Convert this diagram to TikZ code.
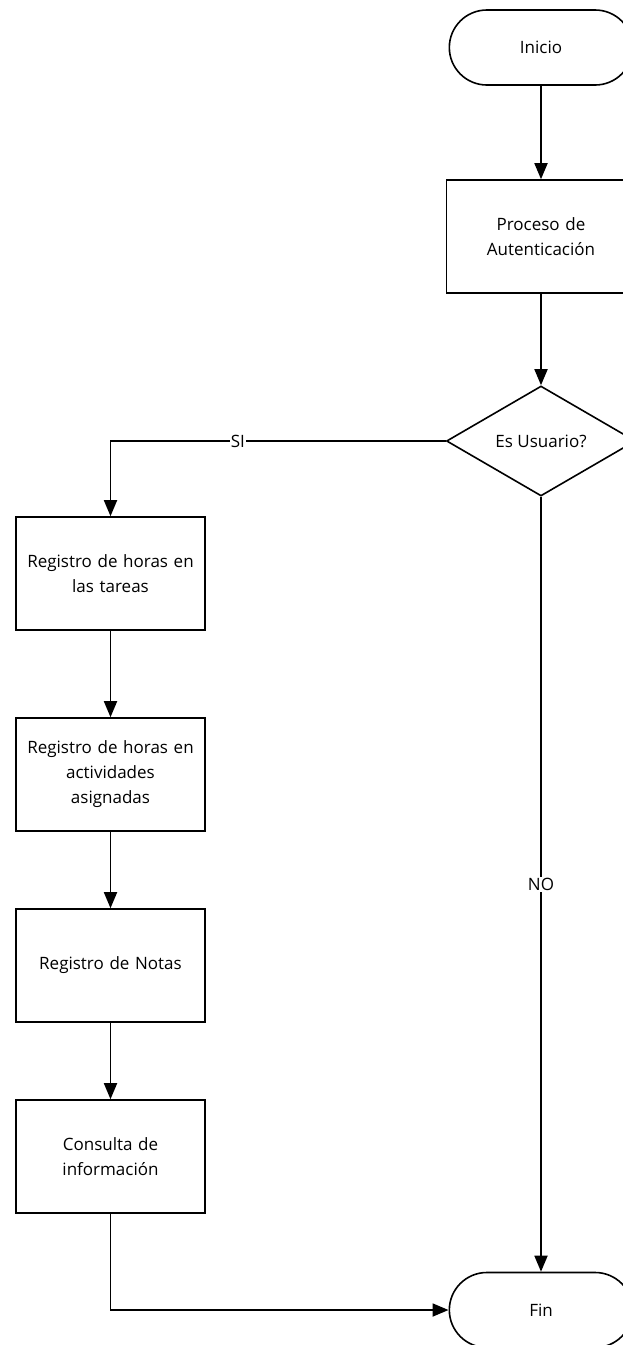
\documentclass[tikz,border=0pt]{standalone}
\usepackage{fontspec}
\setmainfont{Open Sans}
\usetikzlibrary{arrows.meta,shapes.geometric,shapes.misc}

\tikzset{
  terminal/.style={draw, line width=1.6pt, rounded rectangle, minimum width=190pt, minimum height=75pt, font=\fontsize{17}{24}\selectfont},
  proceso/.style={draw, line width=1.6pt, rectangle, minimum width=189pt, minimum height=113pt, align=center, text width=185pt, inner sep=2pt, font=\fontsize{17}{25}\selectfont},
  decision/.style={draw, line width=1.6pt, diamond, minimum width=189pt, minimum height=110pt, inner sep=0pt, font=\fontsize{17}{24}\selectfont},
  flecha/.style={line width=1.8pt, -{Triangle[width=13pt,length=16pt]}},
  etiqueta/.style={fill=white, inner sep=1pt, font=\fontsize{17}{20}\selectfont}
}

\begin{document}
\begin{tikzpicture}[x=1pt,y=-1pt]

		\useasboundingbox (0,0) rectangle (623,1345);

		% Inicio y autenticación
		\node[terminal] (inicio) at (541,47.5) {Inicio};
		\node[proceso] (autentica) at (541,236.5) {Proceso de\\Autenticación};

		% Decisión
		\node[decision] (usuario) at (541,441) {Es Usuario?};

		% Columna de registro
		\node[proceso] (tareas) at (110.5,573.5) {Registro de horas en\\las tareas};
		\node[proceso] (actividades) at (110.5,774.5) {Registro de horas en\\actividades\\asignadas};
		\node[proceso] (notas) at (110.5,965.5) {Registro de Notas};
		\node[proceso] (consulta) at (110.5,1156.5) {Consulta de\\información};

		% Fin
		\node[terminal] (fin) at (541,1310) {Fin};

		% Conexiones
		\draw[flecha] (inicio) -- (autentica);
		\draw[flecha] (autentica) -- (usuario);
		\draw[flecha] (usuario.west) -| node[etiqueta, pos=0.31] {SI} (tareas.north);
		\draw[flecha] (tareas) -- (actividades);
		\draw[flecha] (actividades) -- (notas);
		\draw[flecha] (notas) -- (consulta);
		\draw[flecha] (consulta.south) |- (fin.west);
		\draw[flecha] (usuario.south) -- node[etiqueta, pos=0.5] {NO} (fin.north);

\end{tikzpicture}
\end{document}
